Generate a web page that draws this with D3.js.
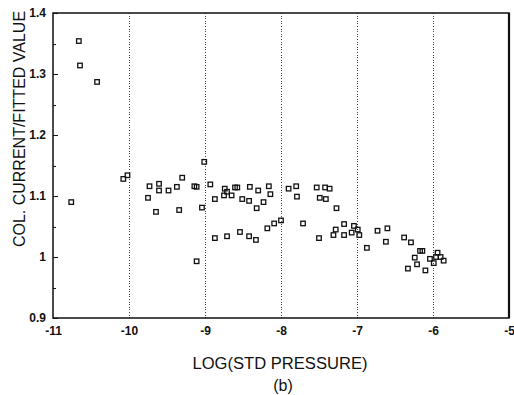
<!DOCTYPE html>
<html lang="en">
<head>
    <meta charset="UTF-8">
    <title>col current / fitted value</title>
    <script src="https://cdn.jsdelivr.net/npm/d3@7"></script>
    <style>
        body { margin: 0; background: #fff; }
        .axis path, .axis line {
            fill: none;
            stroke: #111;
            shape-rendering: crispEdges;
        }
        .axis text {
            font-family: "Liberation Sans Narrow", "Liberation Sans", Arial, sans-serif;
            font-size: 12px;
            font-weight: bold;
            fill: #111;
        }
        .grid line {
            stroke: #444;
            stroke-width: 1;
            stroke-dasharray: 1,1.6;
            shape-rendering: crispEdges;
        }
        .title {
            font-family: "Liberation Sans", Arial, sans-serif;
            fill: #111;
        }
        .narrow {
            font-family: "Liberation Sans Narrow", "Liberation Sans", Arial, sans-serif;
        }
        .pt {
            fill: none;
            stroke: #111;
            stroke-width: 1.3;
        }
    </style>
</head>
<body>
<script>
	var width = 514, height = 395;
	var padding = {left: 53, right: 5, top: 13, bottom: 77};

	// log(std pressure)
	var xVals = [-10.66, -10.645, -10.42, -10.76, -10.075, -10.02, -9.73, -9.605, -9.605, -9.75,
		-9.645, -9.48, -9.37, -9.30, -9.14, -9.11, -9.34, -9.04, -9.01, -9.11,
		-8.93, -8.87, -8.87, -8.74, -8.75, -8.71, -8.65, -8.605, -8.575, -8.71,
		-8.51, -8.54, -8.42, -8.41, -8.42, -8.33, -8.32, -8.30, -8.23, -8.16,
		-8.18, -8.14, -8.09, -8.00, -7.90, -7.80, -7.79, -7.71, -7.53, -7.42,
		-7.36, -7.49, -7.41, -7.27, -7.50, -7.28, -7.31, -7.17, -7.17, -7.07,
		-7.04, -6.99, -6.97, -6.87, -6.73, -6.60, -6.62, -6.38, -6.29, -6.17,
		-6.14, -6.24, -6.21, -6.33, -6.10, -6.04, -5.99, -5.96, -5.94, -5.90,
		-5.86];
	// col. current / fitted value
	var yVals = [1.354, 1.314, 1.287, 1.090, 1.128, 1.134, 1.116, 1.120, 1.109, 1.097,
		1.074, 1.109, 1.115, 1.130, 1.116, 1.115, 1.077, 1.081, 1.156, 0.993,
		1.119, 1.095, 1.031, 1.112, 1.101, 1.107, 1.101, 1.114, 1.114, 1.034,
		1.095, 1.041, 1.092, 1.115, 1.034, 1.028, 1.080, 1.109, 1.090, 1.116,
		1.047, 1.103, 1.055, 1.060, 1.112, 1.116, 1.099, 1.055, 1.114, 1.114,
		1.112, 1.097, 1.095, 1.080, 1.031, 1.045, 1.036, 1.054, 1.036, 1.040,
		1.051, 1.045, 1.036, 1.015, 1.043, 1.047, 1.025, 1.032, 1.024, 1.010,
		1.010, 0.999, 0.988, 0.981, 0.978, 0.997, 0.990, 1.000, 1.007, 1.000,
		0.994];

	var xTicks = [-11, -10, -9, -8, -7, -6, -5];
	var yTicks = [0.9, 1, 1.1, 1.2, 1.3, 1.4];
	var yMinor = [0.95, 1.05, 1.15, 1.25, 1.35];
	var xTitle = "LOG(STD PRESSURE)";
	var yTitle = "COL. CURRENT/FITTED VALUE";
	var caption = "(b)";

	var svg = d3.select("body")
		.append("svg")
		.attr("width", width)
		.attr("height", height);

	var plotW = width - padding.left - padding.right;
	var plotH = height - padding.top - padding.bottom;

	var xScale = d3.scaleLinear().domain([-11, -5]).range([0, plotW]);
	var yScale = d3.scaleLinear().domain([0.9, 1.4]).range([plotH, 0]);

	var g = svg.append("g")
		.attr("transform", "translate(" + padding.left + "," + padding.top + ")");

	// dotted vertical grid at inner ticks
	g.append("g")
		.attr("class", "grid")
		.selectAll("line")
		.data(xTicks.slice(1, -1))
		.enter()
		.append("line")
		.attr("x1", function (d) { return Math.round(xScale(d)) + 0.5; })
		.attr("x2", function (d) { return Math.round(xScale(d)) + 0.5; })
		.attr("y1", 0)
		.attr("y2", plotH);

	// frame
	g.append("rect")
		.attr("width", plotW)
		.attr("height", plotH)
		.attr("fill", "none")
		.attr("stroke", "#111")
		.attr("stroke-width", 1.5);
	g.append("line")
		.attr("x1", plotW).attr("x2", plotW)
		.attr("y1", 0).attr("y2", plotH)
		.attr("stroke", "#111")
		.attr("stroke-width", 2.2);

	// x axis
	var xAxis = d3.axisBottom(xScale)
		.tickValues(xTicks)
		.tickSize(0)
		.tickPadding(8)
		.tickFormat(function (d) { return d; });
	g.append("g")
		.attr("class", "axis")
		.attr("transform", "translate(0," + plotH + ")")
		.call(xAxis)
		.call(function (s) { s.select(".domain").remove(); });

	// y axis, ticks pointing inward
	var yAxis = d3.axisLeft(yScale)
		.tickValues(yTicks)
		.tickSizeInner(-5)
		.tickSizeOuter(0)
		.tickPadding(7)
		.tickFormat(function (d) { return d3.format("")(d); });
	g.append("g")
		.attr("class", "axis")
		.call(yAxis)
		.call(function (s) { s.select(".domain").remove(); });

	var yAxisMinor = d3.axisLeft(yScale)
		.tickValues(yMinor)
		.tickSizeInner(-3)
		.tickSizeOuter(0)
		.tickFormat("");
	g.append("g")
		.attr("class", "axis")
		.call(yAxisMinor)
		.call(function (s) { s.select(".domain").remove(); });

	// points as hollow squares
	var sq = 4.5;
	g.selectAll(".pt")
		.data(xVals)
		.enter()
		.append("rect")
		.attr("class", "pt")
		.attr("x", function (d) { return xScale(d) - sq / 2; })
		.attr("y", function (d, i) { return yScale(yVals[i]) - sq / 2; })
		.attr("width", sq)
		.attr("height", sq);

	// titles
	svg.append("text")
		.attr("class", "title")
		.attr("x", 280)
		.attr("y", 369)
		.attr("text-anchor", "middle")
		.attr("font-size", 16)
		.attr("textLength", 175)
		.attr("lengthAdjust", "spacingAndGlyphs")
		.text(xTitle);

	svg.append("text")
		.attr("class", "title")
		.attr("x", 283)
		.attr("y", 391)
		.attr("text-anchor", "middle")
		.attr("font-size", 16)
		.text(caption);

	svg.append("text")
		.attr("class", "title narrow")
		.attr("transform", "translate(25,129) rotate(-90)")
		.attr("text-anchor", "middle")
		.attr("font-size", 16)
		.text(yTitle);
</script>
</body>
</html>
